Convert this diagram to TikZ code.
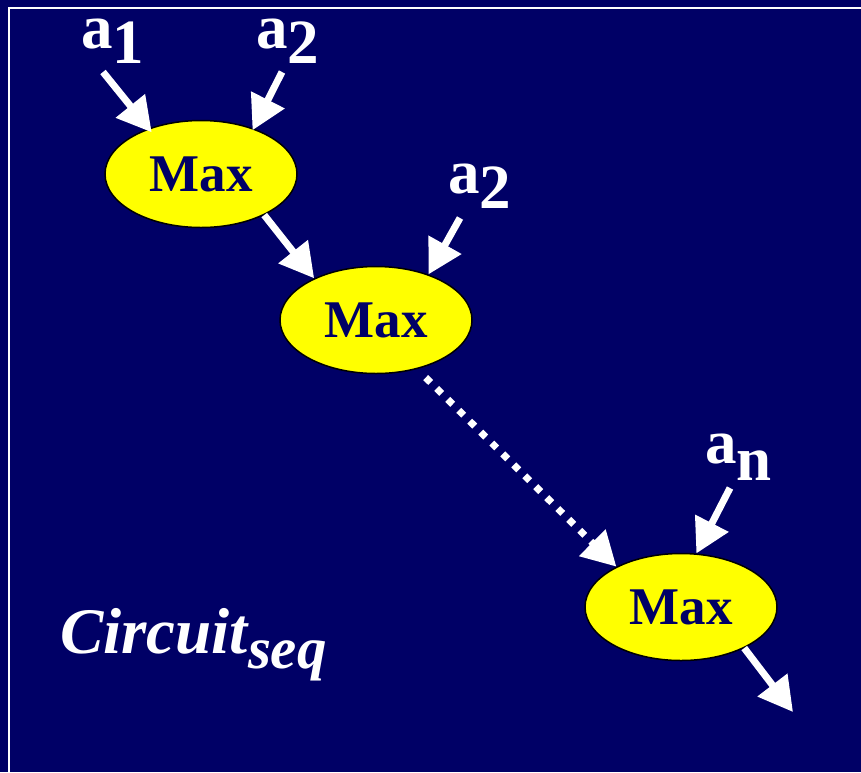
\documentclass[tikz,border=0pt]{standalone}
\usepackage{fontspec}
\setmainfont{Liberation Serif}
\usetikzlibrary{shapes.geometric,arrows.meta}
\definecolor{navy}{RGB}{0,0,102}
\definecolor{yel}{RGB}{255,255,0}
\tikzset{
  maxnode/.style={ellipse,draw=black,line width=1.5pt,fill=yel,minimum width=192pt,minimum height=107pt,inner sep=0pt,
    text=navy,font=\fontsize{53}{53}\selectfont\bfseries},
  lbl/.style={inner sep=0pt,anchor=base west,text=white,font=\fontsize{63}{63}\selectfont\bfseries},
  arr/.style={draw=white,line width=7pt,-{Triangle[length=34pt,width=36pt]}},
  dotarr/.style={arr,dash pattern=on 7pt off 8.5pt}
}
\begin{document}
\begin{tikzpicture}[x=1pt,y=-1pt]
\fill[navy] (0,0) rectangle (861,772);
\useasboundingbox (0,0) rectangle (861,772);
\draw[white,line width=2.5pt] (9,772) -- (9,8) -- (861,8);
% nodes
\node[maxnode] (e1) at (201,174) {Max};
\node[maxnode] (e2) at (376,320) {Max};
\node[maxnode] (e3) at (681,607) {Max};
% labels
\node[lbl] (l1) at (81,48) {a\raisebox{-15pt}{1}};
\node[lbl] (l2) at (256,48) {a\raisebox{-15pt}{2}};
\node[lbl] (l3) at (448,193) {a\raisebox{-15pt}{2}};
\node[lbl] (l4) at (705,463) {a\raisebox{-17pt}{n}};
\node[inner sep=0pt,anchor=base west,text=white,font=\fontsize{65}{65}\selectfont\bfseries\itshape] (cs) at (60,653)
  {Circuit\raisebox{-15pt}{\fontsize{59}{59}\selectfont seq}};
% free ends
\coordinate (s1) at (103,72);
\coordinate (s2) at (282,72);
\coordinate (s3) at (460,218);
\coordinate (s4) at (730,488);
\coordinate (out) at (793,712);
% arrows
\draw[arr,shorten >=-5pt] (s1) -- (e1.139);
\draw[arr,shorten >=-2pt] (s2) -- (e1.41);
\draw[arr] (e1.-33) -- (e2.146);
\draw[arr] (s3) -- (e2.41);
\draw[dotarr,shorten <=12pt] (e2.-50) -- (e3.148);
\draw[arr] (s4) -- (e3.74);
\draw[arr] (e3.-33) -- (out);
\end{tikzpicture}
\end{document}
